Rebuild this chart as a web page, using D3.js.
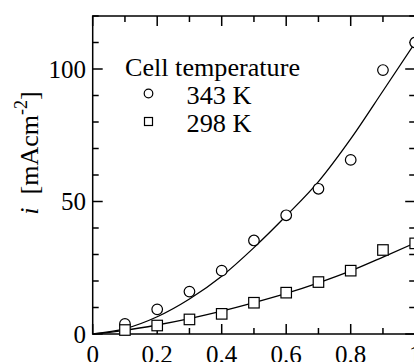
<!DOCTYPE html>
<html lang="en">
<head>
    <script src="https://d3js.org/d3.v7.min.js"></script>
    <style>
        body {
            margin: 0;
            background: #fff;
            font-family: 'Liberation Serif', 'Times New Roman', serif;
        }
        svg text {
            fill: #000;
        }
        .tick-label {
            font-size: 25px;
        }
        .legend-text {
            font-size: 24.5px;
        }
        .frame line {
            stroke: #000;
            stroke-width: 1.5px;
        }
        .fit {
            fill: none;
            stroke: #000;
            stroke-width: 1.3px;
        }
        .marker {
            fill: #fff;
            stroke: #000;
            stroke-width: 1.2px;
        }
    </style>
</head>
<body>
<script>
    // current density i (mA cm^-2) against x
    var xs = [0.1, 0.2, 0.3, 0.4, 0.5, 0.6, 0.7, 0.8, 0.9, 1.0];
    var hot = [3.8, 9.3, 16.0, 23.9, 35.3, 44.8, 54.8, 65.7, 99.6, 110];   // 343 K
    var cold = [1.5, 3.2, 5.5, 7.6, 11.8, 15.6, 19.6, 23.9, 31.7, 34.2];   // 298 K

    // fitted curves read at these x positions
    var fitX = [0, 0.1, 0.2, 0.3, 0.4, 0.5, 0.6, 0.7, 0.8, 0.9, 1.0];
    var hotFit = [0, 2.0, 6.5, 13.2, 21.8, 32.6, 44.6, 57.5, 73.6, 91.7, 110];
    var coldFit = [0, 1.4, 3.4, 5.8, 8.6, 11.8, 15.3, 19.3, 23.8, 29.0, 34.4];

    var xTicks = [0, 0.2, 0.4, 0.6, 0.8, 1];
    var yTicks = [0, 50, 100];
    var legendTitle = "Cell temperature";
    var seriesNames = ["343 K", "298 K"];

    var W = 414, H = 362;
    var box = {left: 92.7, right: 415.2, top: 16, bottom: 334};

    var svg = d3.select("body").append("svg")
        .attr("width", W)
        .attr("height", H);

    var x = d3.scaleLinear().domain([0, 1]).range([box.left, box.right]);
    var y = d3.scaleLinear().domain([0, 120]).range([box.bottom, box.top]);

    // frame + inward ticks on all four sides
    var frame = svg.append("g").attr("class", "frame");
    frame.append("rect")
        .attr("x", box.left).attr("y", box.top)
        .attr("width", box.right - box.left).attr("height", box.bottom - box.top)
        .attr("fill", "none").attr("stroke", "#000").attr("stroke-width", 1.5);

    var minorX = d3.range(0, 1.001, 0.1);
    var minorY = d3.range(0, 120.1, 10);

    minorX.forEach(function(v) {
        var major = Math.round(v * 10) % 2 === 0;
        var len = major ? 10 : 6;
        frame.append("line").attr("x1", x(v)).attr("x2", x(v)).attr("y1", box.bottom).attr("y2", box.bottom - len);
        frame.append("line").attr("x1", x(v)).attr("x2", x(v)).attr("y1", box.top).attr("y2", box.top + len);
    });
    minorY.forEach(function(v) {
        var major = Math.round(v) % 50 === 0;
        var len = major ? 10 : 6;
        frame.append("line").attr("x1", box.left).attr("x2", box.left + len).attr("y1", y(v)).attr("y2", y(v));
        frame.append("line").attr("x1", box.right).attr("x2", box.right - len).attr("y1", y(v)).attr("y2", y(v));
    });

    // tick labels (bottom row is clipped by the frame edge, like the original)
    svg.selectAll(".xlab")
        .data(xTicks)
        .enter().append("text")
        .attr("class", "tick-label")
        .attr("x", function(d) { return x(d); })
        .attr("y", 363)
        .attr("text-anchor", "middle")
        .text(function(d) { return d; });

    svg.selectAll(".ylab")
        .data(yTicks)
        .enter().append("text")
        .attr("class", "tick-label")
        .attr("x", 86)
        .attr("y", function(d) { return y(d) + 8.5; })
        .attr("text-anchor", "end")
        .text(function(d) { return d; });

    // y axis title
    var yt = svg.append("text")
        .attr("transform", "translate(38,153) rotate(-90)")
        .attr("text-anchor", "middle")
        .style("font-size", "26px");
    yt.append("tspan").style("font-style", "italic").text("i");
    yt.append("tspan").attr("dx", 13).text("[mAcm");
    yt.append("tspan").attr("dy", -11).style("font-size", "18px").text("-2");
    yt.append("tspan").attr("dy", 11).text("]");

    // fitted curves
    var line = d3.line()
        .x(function(d) { return x(d[0]); })
        .y(function(d) { return y(d[1]); })
        .curve(d3.curveMonotoneX);

    svg.append("path").attr("class", "fit")
        .attr("d", line(d3.zip(fitX, hotFit)));
    svg.append("path").attr("class", "fit")
        .attr("d", line(d3.zip(fitX, coldFit)));

    // markers
    svg.selectAll(".hot")
        .data(d3.zip(xs, hot))
        .enter().append("circle")
        .attr("class", "marker")
        .attr("cx", function(d) { return x(d[0]); })
        .attr("cy", function(d) { return y(d[1]); })
        .attr("r", 5.3);

    var s = 10.5;
    svg.selectAll(".cold")
        .data(d3.zip(xs, cold))
        .enter().append("rect")
        .attr("class", "marker")
        .attr("x", function(d) { return x(d[0]) - s / 2; })
        .attr("y", function(d) { return y(d[1]) - s / 2; })
        .attr("width", s)
        .attr("height", s);

    // legend
    svg.append("text").attr("class", "legend-text")
        .attr("x", 125).attr("y", 76)
        .attr("textLength", 175).attr("lengthAdjust", "spacingAndGlyphs")
        .text(legendTitle);
    svg.append("circle").attr("class", "marker")
        .attr("cx", 148.5).attr("cy", 93.5).attr("r", 4.3);
    svg.append("text").attr("class", "legend-text")
        .attr("x", 186.5).attr("y", 103.5)
        .attr("textLength", 65).attr("lengthAdjust", "spacingAndGlyphs")
        .text(seriesNames[0]);
    svg.append("rect").attr("class", "marker")
        .attr("x", 144.5).attr("y", 117.5).attr("width", 8).attr("height", 8);
    svg.append("text").attr("class", "legend-text")
        .attr("x", 186.5).attr("y", 131.5)
        .attr("textLength", 65).attr("lengthAdjust", "spacingAndGlyphs")
        .text(seriesNames[1]);
</script>
</body>
</html>
